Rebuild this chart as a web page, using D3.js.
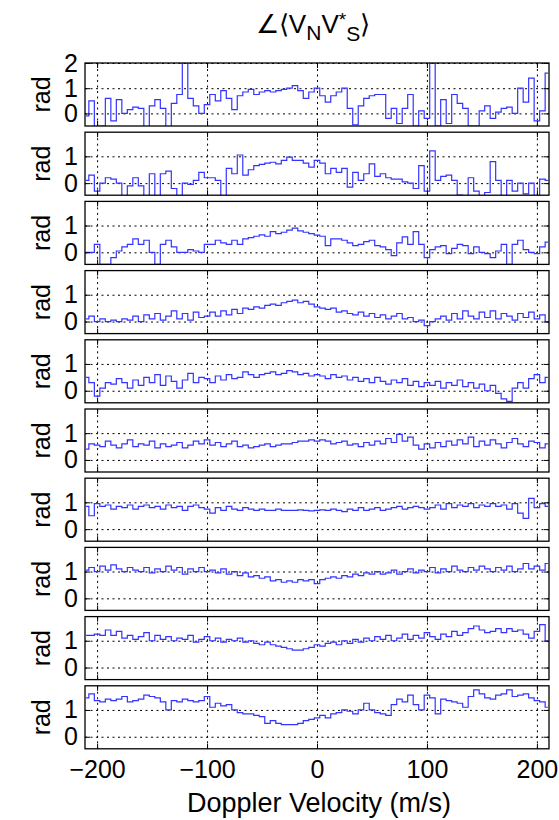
<html><head>
<script src="https://d3js.org/d3.v7.min.js"></script>
<style>
  body { margin: 0; background: #fff; }
  text { font-family: 'Liberation Sans', Arial, Helvetica, sans-serif; fill: #000; }
  .grid line { stroke: #000; stroke-width: 1; stroke-dasharray: 2,3.5; }
  .grid path { display: none; }
  .ticks path { display: none; }
  .ticks line { stroke: #000; }
</style>
</head>
<body>
<script>
  // velocity bins (m/s), 5 m/s apart
  const velocity = d3.range(-210, 211, 5)
  const xTicks = [-200, -100, 0, 100, 200]
  const yTicks = [0, 1, 2]

  // phase angle (rad), one array per panel, top to bottom
  const phase1 = [-0.1,0.5,-0.6,-0.5,0.6,-0.3,0.55,0.0,0.15,0.25,
                  0.2,-0.6,0.3,0.55,0.2,-0.6,0.4,0.75,2.0,0.6,
                  0.3,0.0,0.35,0.75,0.5,0.9,0.6,0.15,0.7,0.85,
                  0.95,0.75,0.85,0.9,0.85,0.9,0.95,1.0,1.1,0.9,
                  0.6,0.85,1.0,0.7,0.45,0.7,0.85,1.0,0.2,-0.45,
                  0.3,0.6,0.7,0.75,0.75,-0.2,0.2,-0.4,0.2,0.75,
                  -0.5,0.1,-0.2,2.0,-0.5,0.55,-0.4,0.75,0.4,0.2,
                  -0.5,-0.5,0.1,0.3,-0.2,0.05,0.2,0.25,0.0,1.0,
                  0.45,1.4,-0.3,0.1,1.6]
  const phase2 = [0.1,0.3,-0.3,0.0,0.2,0.15,0.0,-0.5,-0.1,0.2,
                  -0.1,-0.5,0.35,-0.5,0.35,0.45,-0.2,-0.5,0.0,-0.05,
                  0.1,0.4,0.2,0.2,0.1,-0.5,0.55,0.35,1.05,0.3,
                  0.5,0.65,0.7,0.75,0.78,0.72,0.85,0.97,0.85,0.85,
                  0.75,0.6,0.85,0.75,0.35,0.55,0.4,0.55,-0.15,0.4,
                  0.1,0.35,0.72,0.25,0.35,0.2,0.15,0.15,0.05,0.0,
                  -0.2,0.65,-0.3,1.2,0.1,0.25,0.3,0.1,-0.45,-0.5,
                  0.2,-0.3,-0.5,-0.35,0.8,0.1,-0.5,0.1,-0.3,0.0,
                  -0.4,0.0,-0.5,0.15,0.1]
  const phase3 = [0.0,0.0,0.3,-0.45,-0.45,-0.2,0.05,0.2,0.3,0.5,
                  0.3,0.45,0.0,-0.45,0.3,0.45,0.2,0.0,0.0,0.1,
                  0.05,0.0,0.3,0.3,0.45,0.35,0.3,0.45,0.3,0.5,
                  0.55,0.6,0.65,0.6,0.77,0.7,0.75,0.83,0.9,0.8,
                  0.75,0.7,0.64,0.6,0.25,0.5,0.5,0.45,0.35,0.25,
                  0.3,0.4,0.45,0.25,0.2,0.1,-0.12,0.35,0.58,0.3,
                  0.77,0.3,-0.2,0.1,0.2,0.25,-0.05,0.15,0.3,0.25,
                  -0.05,0.2,0.0,-0.05,-0.2,0.05,0.3,-0.45,0.3,0.45,
                  0.1,0.0,-0.05,0.2,0.38]
  const phase4 = [0.1,0.2,0.0,0.1,0.0,0.05,0.0,0.1,0.05,0.2,
                  0.0,0.25,0.1,0.3,0.05,0.2,0.4,0.1,0.3,0.05,
                  0.35,0.15,0.2,0.35,0.2,0.4,0.25,0.45,0.3,0.5,
                  0.45,0.55,0.5,0.6,0.65,0.6,0.7,0.75,0.8,0.7,
                  0.75,0.65,0.55,0.5,0.45,0.5,0.35,0.4,0.3,0.25,
                  0.35,0.2,0.3,0.15,0.25,0.1,0.2,0.3,0.1,0.15,
                  0.0,0.05,-0.15,0.0,0.1,0.2,0.05,0.3,0.1,0.4,
                  0.2,0.1,0.35,0.15,0.4,0.1,0.3,0.2,0.05,0.3,
                  0.15,0.35,0.1,0.25,0.0]
  const phase5 = [0.5,0.3,-0.2,0.1,0.3,0.25,0.45,0.3,0.1,0.4,
                  0.2,0.5,0.3,0.6,0.2,0.55,0.35,0.1,0.4,0.65,
                  0.3,0.5,0.45,0.3,0.55,0.4,0.6,0.45,0.5,0.7,
                  0.6,0.5,0.6,0.65,0.7,0.6,0.65,0.75,0.7,0.6,
                  0.65,0.55,0.6,0.55,0.45,0.6,0.5,0.55,0.4,0.5,
                  0.35,0.45,0.3,0.5,0.35,0.25,0.4,0.3,0.45,0.2,
                  0.35,0.15,0.3,0.2,0.35,0.1,0.3,0.2,0.4,0.15,
                  0.3,0.1,0.25,0.0,0.2,-0.1,-0.3,-0.4,0.1,0.3,
                  0.1,0.45,0.6,0.3,0.5]
  const phase6 = [0.4,0.6,0.55,0.5,0.7,0.55,0.45,0.6,0.75,0.5,
                  0.6,0.55,0.7,0.45,0.6,0.5,0.55,0.65,0.45,0.55,
                  0.7,0.6,0.75,0.55,0.65,0.5,0.6,0.7,0.5,0.55,
                  0.45,0.5,0.55,0.6,0.5,0.55,0.6,0.6,0.65,0.7,
                  0.7,0.75,0.7,0.75,0.7,0.6,0.65,0.7,0.55,0.6,
                  0.5,0.65,0.55,0.7,0.6,0.8,0.65,0.95,0.7,0.85,
                  0.55,0.4,0.6,0.45,0.65,0.5,0.7,0.55,0.75,0.6,
                  0.85,0.5,0.7,0.55,0.75,0.6,0.45,0.65,0.8,0.6,
                  0.5,0.7,0.65,0.45,0.6]
  const phase7 = [0.85,0.5,0.95,0.85,0.9,0.75,0.85,0.8,0.9,0.75,
                  0.85,0.9,0.8,0.85,0.75,0.9,0.8,0.85,0.7,0.85,
                  0.9,0.8,0.75,0.6,0.8,0.7,0.85,0.75,0.7,0.8,
                  0.75,0.7,0.75,0.7,0.7,0.75,0.7,0.7,0.7,0.72,
                  0.7,0.68,0.7,0.72,0.7,0.75,0.7,0.65,0.75,0.7,
                  0.8,0.7,0.75,0.8,0.7,0.75,0.8,0.85,0.75,0.8,
                  0.85,0.8,0.75,0.8,0.9,0.75,0.95,0.8,0.9,0.85,
                  0.95,0.8,0.9,0.85,0.95,0.85,0.9,0.75,0.95,0.6,
                  0.4,1.15,0.8,0.95,0.85]
  const phase8 = [1.05,1.15,1.0,1.2,1.05,1.25,1.1,1.0,1.15,1.05,
                  1.0,1.15,0.95,1.1,1.0,1.2,1.05,1.15,0.9,1.1,
                  1.0,1.15,1.0,1.05,0.95,1.1,0.9,1.0,0.85,0.95,
                  0.8,0.85,0.75,0.8,0.65,0.7,0.6,0.65,0.6,0.7,
                  0.65,0.7,0.55,0.7,0.75,0.8,0.75,0.85,0.8,0.9,
                  0.85,0.95,0.9,1.0,0.9,0.95,1.05,0.9,1.0,1.1,
                  0.95,1.05,1.0,1.15,0.95,1.1,1.0,1.2,1.05,1.0,
                  1.15,1.05,1.2,1.1,1.0,1.15,1.05,1.2,1.0,1.1,
                  1.3,1.1,1.2,1.05,1.3]
  const phase9 = [1.2,1.2,1.25,1.2,1.4,1.2,1.35,1.1,1.2,1.05,
                  1.15,1.3,1.0,1.2,1.05,1.15,1.0,1.1,1.05,1.2,
                  0.95,1.05,1.15,1.0,1.1,0.95,1.05,1.0,1.1,0.95,
                  1.0,0.9,0.85,0.95,0.85,0.8,0.75,0.7,0.65,0.65,
                  0.7,0.75,0.85,0.8,0.9,0.95,0.85,1.0,0.9,1.05,
                  0.95,1.1,1.0,1.15,1.05,1.2,1.0,1.1,1.25,1.05,
                  1.2,1.1,1.3,1.15,1.05,1.25,1.15,1.35,1.2,1.3,
                  1.45,1.55,1.4,1.3,1.35,1.45,1.3,1.45,1.35,1.4,
                  1.25,1.1,1.35,1.6,1.0]
  const phase10 = [1.45,1.6,1.35,1.3,1.4,1.35,1.4,1.5,1.3,1.35,
                   1.4,1.55,1.5,1.45,1.3,1.0,1.35,1.3,1.4,1.35,
                   1.3,1.35,1.5,1.1,1.25,1.15,1.2,1.0,0.9,0.85,
                   0.85,0.8,0.75,0.5,0.6,0.5,0.45,0.45,0.45,0.5,
                   0.6,0.65,0.7,0.8,0.7,0.85,0.9,1.0,0.95,0.85,
                   1.0,1.25,1.0,0.9,0.85,0.8,1.2,1.4,1.3,1.55,
                   1.2,1.0,1.55,1.45,0.85,1.4,1.35,1.3,1.25,1.1,
                   1.5,1.75,1.6,1.45,1.4,1.55,1.6,1.75,1.5,1.55,
                   1.6,1.45,1.35,1.3,1.1]

  const panels = [phase1, phase2, phase3, phase4, phase5, phase6, phase7, phase8, phase9, phase10]

  // Dimensions
  const width = 559, height = 820
  const left = 85, right = 549
  const top0 = 63, panelH = 63, pitch = 69.2

  const svg = d3.select("body").append("svg")
                .attr("width", width).attr("height", height)

  const x = d3.scaleLinear().domain([-211, 211]).range([left, right])

  const line = d3.line().curve(d3.curveStep)

  panels.forEach((vals, i) => {
    const top = top0 + i * pitch
    const yDom = i === 0 ? [-0.5, 2.0] : [-0.45, 1.9]
    const y = d3.scaleLinear().domain(yDom).range([top + panelH, top])
    const yT = yTicks.filter(t => t >= yDom[0] && t <= yDom[1] + 1e-9)

    const g = svg.append("g").attr("class", "panel")

    // gridlines
    g.append("g").attr("class", "grid")
      .attr("transform", `translate(0,${top + panelH})`)
      .call(d3.axisBottom(x).tickValues(xTicks).tickSize(-panelH).tickFormat(""))
    g.append("g").attr("class", "grid")
      .attr("transform", `translate(${left},0)`)
      .call(d3.axisLeft(y).tickValues(yT).tickSize(-(right - left)).tickFormat(""))

    // data
    g.append("clipPath").attr("id", "clip" + i)
      .append("rect").attr("x", left).attr("y", top).attr("width", right - left).attr("height", panelH)
    g.append("path")
      .attr("clip-path", `url(#clip${i})`)
      .attr("d", line(vals.map((v, k) => [x(velocity[k]), y(v)])))
      .attr("fill", "none")
      .attr("stroke", "#3333ff")
      .attr("stroke-width", 1.2)

    // inward ticks on all sides
    g.append("g").attr("class", "ticks")
      .attr("transform", `translate(0,${top + panelH})`)
      .call(d3.axisBottom(x).tickValues(xTicks).tickSize(-5).tickFormat(""))
    g.append("g").attr("class", "ticks")
      .attr("transform", `translate(0,${top})`)
      .call(d3.axisTop(x).tickValues(xTicks).tickSize(-5).tickFormat(""))
    g.append("g").attr("class", "ticks")
      .attr("transform", `translate(${right},0)`)
      .call(d3.axisRight(y).tickValues(yT).tickSize(-5).tickFormat(""))

    // left axis with labels
    const ya = g.append("g")
      .attr("transform", `translate(${left},0)`)
      .call(d3.axisLeft(y).tickValues(yT).tickSize(-5).tickSizeOuter(0).tickPadding(7).tickFormat(d3.format("d")))
    ya.select(".domain").remove()
    ya.selectAll("text").style("font-size", "25px").attr("fill", "#000")

    // box
    g.append("rect")
      .attr("x", left).attr("y", top).attr("width", right - left).attr("height", panelH)
      .attr("fill", "none").attr("stroke", "#000").attr("stroke-width", 1.3)

    // y label
    svg.append("text")
      .attr("transform", `translate(50,${top + panelH / 2}) rotate(-90)`)
      .attr("text-anchor", "middle")
      .style("font-size", "25px")
      .text("rad")

    // x tick labels under the last panel
    if (i === panels.length - 1) {
      const xa = g.append("g")
        .attr("transform", `translate(0,${top + panelH})`)
        .call(d3.axisBottom(x).tickValues(xTicks).tickSize(0).tickPadding(11))
      xa.select(".domain").remove()
      xa.selectAll("text").style("font-size", "25px").attr("fill", "#000")
    }
  })

  // x label
  svg.append("text")
    .attr("x", (left + right) / 2 + 2).attr("y", 812)
    .attr("text-anchor", "middle")
    .style("font-size", "27px")
    .text("Doppler Velocity (m/s)")

  // title
  const title = svg.append("text")
    .attr("x", (left + right) / 2 - 4).attr("y", 33)
    .attr("text-anchor", "middle")
    .style("font-size", "26px")
  title.append("tspan").text("∠⟨V")
  title.append("tspan").attr("dy", 7).style("font-size", "21px").text("N")
  title.append("tspan").attr("dy", -7).text("V")
  title.append("tspan").attr("dy", -7).style("font-size", "19px").text("*")
  title.append("tspan").attr("dy", 15).style("font-size", "21px").text("S")
  title.append("tspan").attr("dy", -8).text("⟩")
</script>
</body></html>
